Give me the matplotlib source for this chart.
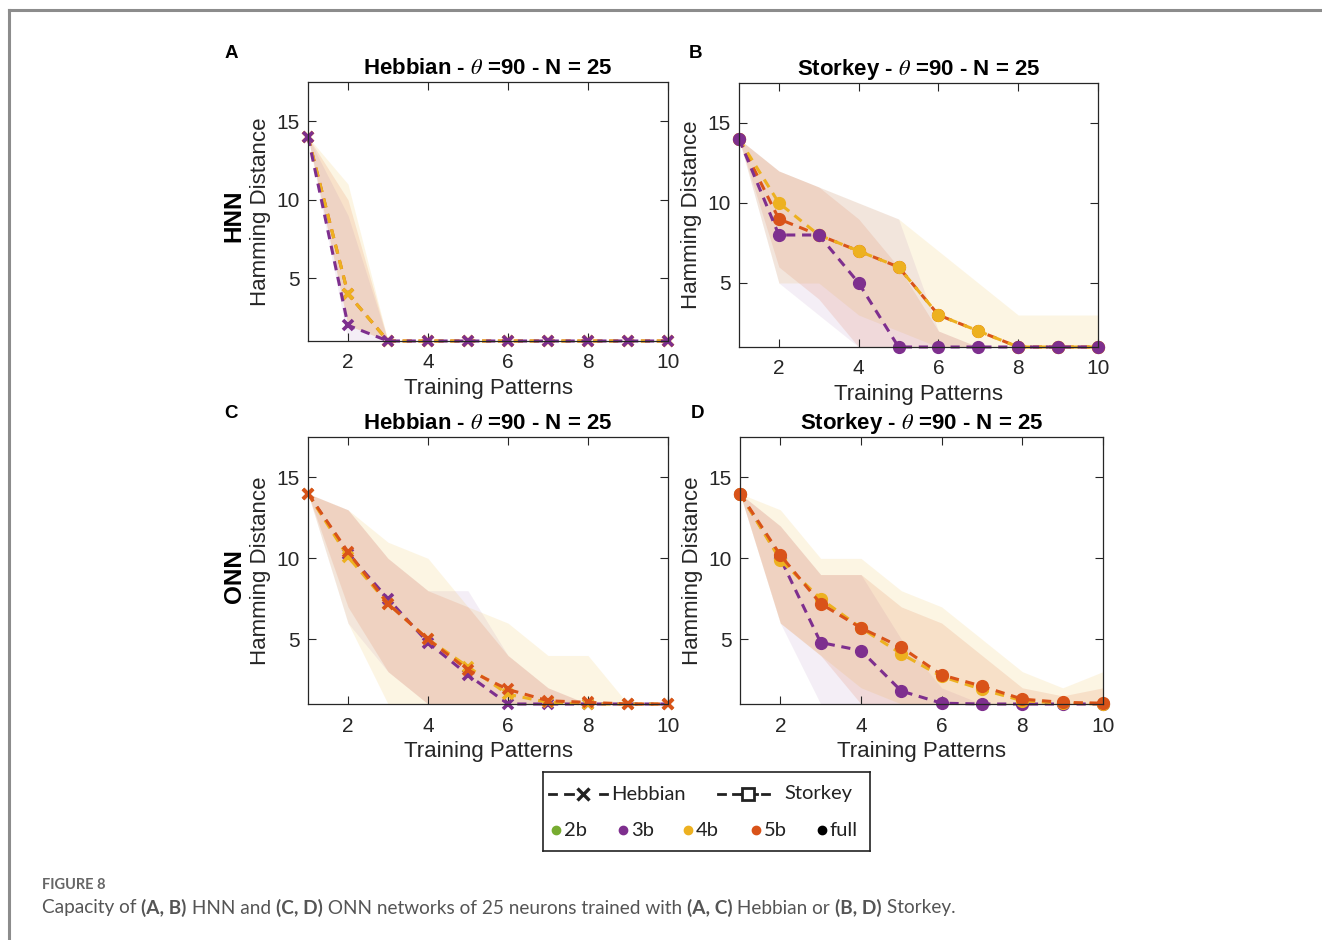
import matplotlib
matplotlib.use('Agg')
import matplotlib.pyplot as plt
from matplotlib.lines import Line2D

plt.rcParams['font.family'] = ['Liberation Sans', 'DejaVu Sans']
plt.rcParams['mathtext.fontset'] = 'stix'

# ---------------- data ----------------
patterns = [1, 2, 3, 4, 5, 6, 7, 8, 9, 10]
xticks = [2, 4, 6, 8, 10]
yticks = [5, 10, 15]

# A: HNN - Hebbian
hnn_heb_3b = [14, 2, 1, 1, 1, 1, 1, 1, 1, 1]
hnn_heb_3b_lo = [14, 1, 1, 1, 1, 1, 1, 1, 1, 1]
hnn_heb_3b_hi = [14, 9, 1, 1, 1, 1, 1, 1, 1, 1]
hnn_heb_4b = [14, 4, 1, 1, 1, 1, 1, 1, 1, 1]
hnn_heb_4b_lo = [14, 2, 1, 1, 1, 1, 1, 1, 1, 1]
hnn_heb_4b_hi = [14, 11, 1, 1, 1, 1, 1, 1, 1, 1]
hnn_heb_5b = [14, 4, 1, 1, 1, 1, 1, 1, 1, 1]
hnn_heb_5b_lo = [14, 2, 1, 1, 1, 1, 1, 1, 1, 1]
hnn_heb_5b_hi = [14, 10, 1, 1, 1, 1, 1, 1, 1, 1]

# B: HNN - Storkey
hnn_sto_3b = [14, 8, 8, 5, 1, 1, 1, 1, 1, 1]
hnn_sto_3b_lo = [14, 5, 3, 1, 1, 1, 1, 1, 1, 1]
hnn_sto_3b_hi = [14, 12, 11, 10, 9, 2, 1, 1, 1, 1]
hnn_sto_4b = [14, 10, 8, 7, 6, 3, 2, 1, 1, 1]
hnn_sto_4b_lo = [14, 5, 5, 3, 2, 1, 1, 1, 1, 1]
hnn_sto_4b_hi = [14, 12, 11, 10, 9, 7, 5, 3, 3, 3]
hnn_sto_5b = [14, 9, 8, 7, 6, 3, 2, 1, 1, 1]
hnn_sto_5b_lo = [14, 6, 4, 1, 1, 1, 1, 1, 1, 1]
hnn_sto_5b_hi = [14, 12, 11, 9, 6, 2, 1, 1, 1, 1]

# C: ONN - Hebbian
onn_heb_3b = [14, 10.3, 7.5, 4.8, 2.8, 1.0, 1.0, 1.0, 1.0, 1.0]
onn_heb_3b_lo = [14, 6, 3, 1, 1, 1, 1, 1, 1, 1]
onn_heb_3b_hi = [14, 13, 10, 8, 8, 4, 2, 1, 1, 1]
onn_heb_4b = [14, 10.1, 7.2, 5.0, 3.3, 1.6, 1.1, 1.0, 1.0, 1.0]
onn_heb_4b_lo = [14, 6, 1, 1, 1, 1, 1, 1, 1, 1]
onn_heb_4b_hi = [14, 13, 11, 10, 7, 6, 4, 4, 1, 1]
onn_heb_5b = [14, 10.4, 7.2, 5.0, 3.1, 1.9, 1.2, 1.1, 1.0, 1.0]
onn_heb_5b_lo = [14, 7, 3, 1, 1, 1, 1, 1, 1, 1]
onn_heb_5b_hi = [14, 13, 10, 8, 7, 4, 2, 1, 1, 1]

# D: ONN - Storkey
onn_sto_3b = [14, 10.0, 4.8, 4.3, 1.8, 1.05, 1.0, 1.0, 1.0, 1.0]
onn_sto_3b_lo = [14, 6, 1, 1, 1, 1, 1, 1, 1, 1]
onn_sto_3b_hi = [14, 12, 9, 9, 5, 2, 1, 1, 1, 1]
onn_sto_4b = [14, 9.9, 7.5, 5.7, 4.1, 2.7, 1.9, 1.2, 1.05, 1.0]
onn_sto_4b_lo = [14, 6, 4, 2, 1, 1, 1, 1, 1, 1]
onn_sto_4b_hi = [14, 13, 10, 10, 8, 7, 5, 3, 2, 3]
onn_sto_5b = [14, 10.2, 7.2, 5.7, 4.5, 2.8, 2.1, 1.3, 1.1, 1.05]
onn_sto_5b_lo = [14, 6, 4, 1, 1, 1, 1, 1, 1, 1]
onn_sto_5b_hi = [14, 12, 9, 9, 7, 6, 4, 2, 1.5, 2]

panel_titles = [r'Hebbian - $\theta$ =90 - N = 25', r'Storkey - $\theta$ =90 - N = 25',
                r'Hebbian - $\theta$ =90 - N = 25', r'Storkey - $\theta$ =90 - N = 25']
panel_letters = ['A', 'B', 'C', 'D']
row_labels = ['HNN', 'ONN']
legend_bits = ['2b', '3b', '4b', '5b', 'full']

C_GREEN = '#77AC30'
C_PURPLE = '#7E2F8E'
C_YELLOW = '#EDB120'
C_ORANGE = '#D95319'
C_BLACK = '#000000'

W, H = 1322, 940
fig = plt.figure(figsize=(W / 100, H / 100), dpi=100)


def rect(l, t, r, b):
    return [l / W, 1 - b / H, (r - l) / W, (b - t) / H]


# outer frame
fig.add_artist(Line2D([9 / W, 1.0], [1 - 10 / H, 1 - 10 / H], transform=fig.transFigure,
                      color='#8c8c8c', lw=2.2))
fig.add_artist(Line2D([9 / W, 9 / W], [1 - 10 / H, 0.0], transform=fig.transFigure,
                      color='#8c8c8c', lw=2.2))

panels = [
    dict(r=rect(308, 82, 668, 341), marker='x', series=[
        (hnn_heb_5b, hnn_heb_5b_lo, hnn_heb_5b_hi, C_ORANGE),
        (hnn_heb_4b, hnn_heb_4b_lo, hnn_heb_4b_hi, C_YELLOW),
        (hnn_heb_3b, hnn_heb_3b_lo, hnn_heb_3b_hi, C_PURPLE)]),
    dict(r=rect(739, 83, 1098, 347), marker='o', series=[
        (hnn_sto_5b, hnn_sto_5b_lo, hnn_sto_5b_hi, C_ORANGE),
        (hnn_sto_4b, hnn_sto_4b_lo, hnn_sto_4b_hi, C_YELLOW),
        (hnn_sto_3b, hnn_sto_3b_lo, hnn_sto_3b_hi, C_PURPLE)]),
    dict(r=rect(308, 437, 668, 704), marker='x', series=[
        (onn_heb_3b, onn_heb_3b_lo, onn_heb_3b_hi, C_PURPLE),
        (onn_heb_4b, onn_heb_4b_lo, onn_heb_4b_hi, C_YELLOW),
        (onn_heb_5b, onn_heb_5b_lo, onn_heb_5b_hi, C_ORANGE)]),
    dict(r=rect(740, 437, 1103, 704), marker='o', series=[
        (onn_sto_3b, onn_sto_3b_lo, onn_sto_3b_hi, C_PURPLE),
        (onn_sto_4b, onn_sto_4b_lo, onn_sto_4b_hi, C_YELLOW),
        (onn_sto_5b, onn_sto_5b_lo, onn_sto_5b_hi, C_ORANGE)]),
]

band_alpha = {C_PURPLE: 0.08, C_YELLOW: 0.12, C_ORANGE: 0.13}

axes = []
for i, p in enumerate(panels):
    ax = fig.add_axes(p['r'])
    axes.append(ax)
    for mean, lo, hi, c in p['series']:
        ax.fill_between(patterns, lo, hi, color=c, alpha=band_alpha[c], lw=0)
    for mean, lo, hi, c in p['series']:
        if p['marker'] == 'x':
            ax.plot(patterns, mean, ls='--', dashes=(3, 2.2), lw=2.2, color=c,
                    marker='x', ms=7.5, mew=2.6, clip_on=False)
        else:
            ax.plot(patterns, mean, ls='--', dashes=(3, 2.2), lw=2.2, color=c,
                    marker='o', ms=8.5, mec=c, mfc=c, clip_on=False)
    ax.set_xlim(1, 10)
    ax.set_ylim(1, 17.5)
    ax.set_xticks(xticks)
    ax.set_yticks(yticks)
    ax.tick_params(direction='in', top=True, right=True, length=6, width=0.8,
                   labelsize=15, color='#262626', labelcolor='#262626')
    ax.tick_params(axis='x', pad=9)
    ax.tick_params(axis='y', pad=6)
    for s in ax.spines.values():
        s.set_color('#262626')
        s.set_linewidth(0.9)
    ax.set_xlabel('Training Patterns', fontsize=16, color='#262626', labelpad=4)
    ax.set_ylabel('Hamming Distance', fontsize=16, color='#262626', labelpad=4)
    ax.set_title(panel_titles[i], fontsize=16, fontweight='bold', pad=6)

# panel letters
for lt, (px, py) in zip(panel_letters, [(231, 54), (695, 54), (231, 414), (697, 414)]):
    fig.text(px / W, 1 - py / H, lt, fontsize=13.5, fontweight='bold', ha='center', va='center')

# row labels
for lbl, py in zip(row_labels, [216, 576]):
    fig.text(234 / W, 1 - py / H, lbl, fontsize=17.5, fontweight='bold', rotation=90,
             ha='center', va='center')

# legend box
lax = fig.add_axes(rect(543, 772, 870, 851))
lax.set_xlim(543, 870)
lax.set_ylim(851, 772)
lax.set_xticks([])
lax.set_yticks([])
for s in lax.spines.values():
    s.set_color('#222222')
    s.set_linewidth(1.2)
LF = ['Lato', 'DejaVu Sans']
ly1, ly2 = 794, 830
for seg in ([549, 556], [565, 573], [600, 607]):
    lax.plot(seg, [ly1, ly1], color='#222222', lw=2)
lax.plot([583], [ly1], marker='x', color='#222222', ms=9, mew=2.4)
lax.text(611, ly1, 'Hebbian', fontsize=14.5, family=LF, va='center', ha='left', color='#222222')
for seg in ([718, 725], [733, 741], [762, 769]):
    lax.plot(seg, [ly1, ly1], color='#222222', lw=2)
lax.plot([741, 757], [ly1, ly1], color='#222222', lw=2)
lax.plot([748], [ly1], marker='s', mfc='white', mec='#222222', ms=9, mew=2)
lax.text(784, ly1, 'Storkey', fontsize=14.5, family=LF, va='center', ha='left', color='#222222')

for lbl, cx, col in zip(legend_bits, [556, 623, 688, 756, 822],
                        [C_GREEN, C_PURPLE, C_YELLOW, C_ORANGE, C_BLACK]):
    lax.plot([cx], [ly2], marker='o', ms=6, color=col)
    lax.text(cx + 8, ly2, lbl, fontsize=14.5, family=LF, va='center', ha='left', color='#222222')

# caption
CF = ['Lato', 'DejaVu Sans']
fig.text(42 / W, 1 - 885 / H, 'FIGURE 8', fontsize=10.5, family=CF, fontweight='bold',
         color='#666666', va='center', ha='left')

cap_parts = [("Capacity of ", False), ("(A, B)", True), (" HNN and ", False), ("(C, D)", True),
             (" ONN networks of 25 neurons trained with ", False), ("(A, C)", True),
             (" Hebbian or ", False), ("(B, D)", True), (" Storkey.", False)]
renderer = fig.canvas.get_renderer()
xpos = 42
for txt, bold in cap_parts:
    t = fig.text(xpos / W, 1 - 908 / H, txt, fontsize=13.7, family=CF,
                 fontweight='bold' if bold else 'normal', color='#555555',
                 va='center', ha='left')
    bb = t.get_window_extent(renderer=renderer)
    xpos += bb.width

fig.savefig('out.png', dpi=100)
